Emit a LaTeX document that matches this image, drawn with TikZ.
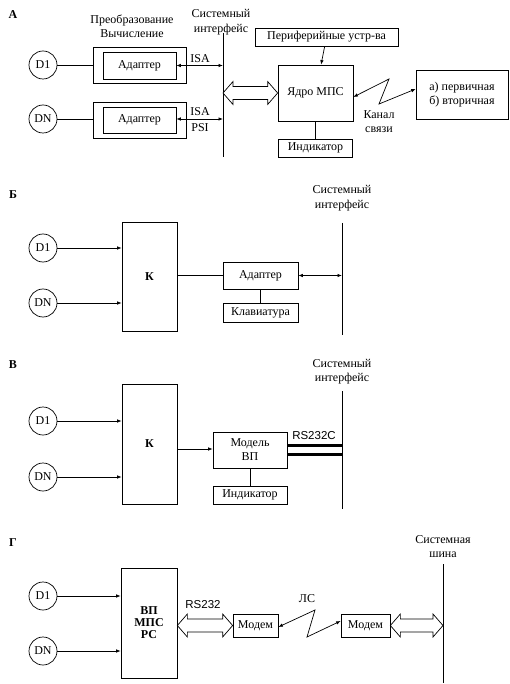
\documentclass[tikz,border=0pt]{standalone}
\usepackage{fontspec}
\setmainfont{Liberation Serif}
\newfontfamily\rsfont{Liberation Sans}
\usetikzlibrary{calc,arrows.meta}
\tikzstyle{every node}=[font=\fontsize{12}{14}\selectfont,inner sep=1pt]
\tikzstyle{blk}=[draw,inner sep=0pt]
\tikzstyle{sensor}=[draw,circle,minimum size=28pt,inner sep=0pt]
\tikzstyle{caption}=[align=center,font=\fontsize{12}{14.5}\selectfont]
\tikzstyle{panel}=[font=\bfseries\fontsize{12}{14}\selectfont]
% hollow two-headed arrow between two points (same height)
\newcommand{\hollowarrow}[2]{%
  \path let \p1=(#1), \p2=(#2) in [draw,fill=white]
    (\x1,\y1) -- (\x1+10pt,\y1+11.5pt) -- (\x1+10pt,\y1+6.5pt) -- (\x2-10pt,\y1+6.5pt)
    -- (\x2-10pt,\y1+11.5pt) -- (\x2,\y1) -- (\x2-10pt,\y1-11.5pt) -- (\x2-10pt,\y1-6.5pt)
    -- (\x1+10pt,\y1-6.5pt) -- (\x1+10pt,\y1-11.5pt) -- cycle;}

\begin{document}
\begin{tikzpicture}[x=1pt,y=-1pt,line width=0.7pt,>={Latex[length=4.5pt,width=3.5pt]}]
\useasboundingbox (0,0) rectangle (510,684);

%% A
\node[panel] (pA) at (13,15) {А};
\node[caption] (conv) at (132,26.5) {Преобразование\\Вычисление};
\node[caption] (ifA) at (221,22) {Системный\\интерфейс};
\coordinate (busAtop) at (223,33);
\coordinate (busAbot) at (223,157);
\draw (busAtop) -- (busAbot);
\node[sensor] (d1A) at (43,65) {D1};
\node[sensor] (dnA) at (43,119) {DN};
\node[blk,minimum width=93pt,minimum height=36pt] (oA1) at (139.5,65) {};
\node[blk,minimum width=73pt,minimum height=27pt] (iA1) at (139.5,65.5) {Адаптер};
\node[blk,minimum width=93pt,minimum height=36pt] (oA2) at (139.5,120) {};
\node[blk,minimum width=73pt,minimum height=26pt] (iA2) at (139.5,120) {Адаптер};
\draw (d1A) -- (oA1);
\draw (dnA.east) -- (dnA.east -| oA2.west);
\draw[<->] (iA1.east) -- (iA1.east -| busAtop);
\draw[<->] (iA2.east |- dnA) -- (dnA -| busAtop);
\node (isa1) at (200,59) {ISA};
\node (isa2) at (200,112) {ISA};
\node (psi) at (200,128) {PSI};
\node[blk,minimum width=143pt,minimum height=18pt] (periph) at (326.5,37) {Периферийные устр-ва};
\node[blk,minimum width=75pt,minimum height=56pt] (core) at (315.5,93) {Ядро МПС};
\node[blk,minimum width=74pt,minimum height=18pt] (indA) at (315.5,148) {Индикатор};
\draw[->] (periph) -- (core);
\draw (core) -- (indA);
\hollowarrow{core.west -| busAtop}{core.west}
\node[blk,minimum width=92pt,minimum height=49pt,align=left] (prim) at (462,94.5) {а) первичная\\б) вторичная};
\draw[<->] ([yshift=-4pt]core.east) -- (389,79) -- (379,104) -- ([yshift=5.5pt]prim.west);
\node[caption] (chan) at (379,121.5) {Канал\\связи};

%% B
\node[panel] (pB) at (13,195) {Б};
\node[caption] (ifB) at (342,198) {Системный\\интерфейс};
\coordinate (busBtop) at (342,223);
\coordinate (busBbot) at (342,335);
\draw (busBtop) -- (busBbot);
\node[sensor] (d1B) at (43,248) {D1};
\node[sensor] (dnB) at (43,303) {DN};
\node[blk,minimum width=55pt,minimum height=109pt,panel] (kB) at (149.5,276.5) {К};
\draw[->] (d1B) -- (d1B -| kB.west);
\draw[->] (dnB) -- (dnB -| kB.west);
\node[blk,minimum width=75pt,minimum height=27pt] (adB) at (260.5,275.5) {Адаптер};
\node[blk,minimum width=75pt,minimum height=19pt] (keyB) at (260.5,312.5) {Клавиатура};
\draw (kB.east |- adB) -- (adB);
\draw[<->] (adB) -- (adB -| busBtop);
\draw (adB) -- (keyB);

%% V
\node[panel] (pV) at (13,365) {В};
\node[caption] (ifV) at (342,371.5) {Системный\\интерфейс};
\coordinate (busVtop) at (342,391);
\coordinate (busVbot) at (342,509);
\draw (busVtop) -- (busVbot);
\node[sensor] (d1V) at (43,421) {D1};
\node[sensor] (dnV) at (43,477) {DN};
\node[blk,minimum width=55pt,minimum height=120pt,panel] (kV) at (149.5,444) {К};
\draw[->] (d1V) -- (d1V -| kV.west);
\draw[->] (dnV) -- (dnV -| kV.west);
\node[blk,minimum width=74pt,minimum height=36pt,align=center,font=\fontsize{12}{14}\selectfont] (modV) at (250,450) {Модель\\ВП};
\node[blk,minimum width=74pt,minimum height=18pt] (indV) at (250,495) {Индикатор};
\draw[->] ([yshift=1pt]modV.west -| kV.east) -- ([yshift=1pt]modV.west);
\draw[line width=3pt] ([yshift=4.5pt]modV.east) -- ([yshift=4.5pt]modV.east -| busVtop);
\draw[line width=3pt] ([yshift=-4.5pt]modV.east) -- ([yshift=-4.5pt]modV.east -| busVtop);
\node[font=\rsfont\fontsize{11.5}{13}\selectfont] (rsV) at (314,436) {RS232C};
\draw (modV) -- (indV);

%% G
\node[panel] (pG) at (13,543) {Г};
\node[caption] (ifG) at (443,546.5) {Системная\\шина};
\coordinate (busGtop) at (443,564);
\coordinate (busGbot) at (443,683);
\draw (busGtop) -- (busGbot);
\node[sensor] (d1G) at (43,596) {D1};
\node[sensor] (dnG) at (43,651) {DN};
\node[blk,minimum width=56pt,minimum height=110pt,panel,align=center,font=\bfseries\fontsize{12}{12}\selectfont] (mpsG) at (149,623) {ВП\\МПС\\РС};
\draw[->] (d1G) -- (d1G -| mpsG.west);
\draw[->] (dnG) -- (dnG -| mpsG.west);
\node[blk,minimum width=45pt,minimum height=23pt] (modem1) at (255.5,625.5) {Модем};
\node[blk,minimum width=49pt,minimum height=23pt] (modem2) at (365.5,625.5) {Модем};
\hollowarrow{modem1.west -| mpsG.east}{modem1.west}
\hollowarrow{modem2.east}{modem2.east -| busGtop}
\node[font=\rsfont\fontsize{11.5}{13}\selectfont] (rsG) at (203,605) {RS232};
\draw[<->] ([yshift=-1.5pt]modem1.east) -- (315,610) -- (307,637) -- ([yshift=4.5pt]modem2.west);
\node (ls) at (307,599) {ЛС};
\end{tikzpicture}
\end{document}
